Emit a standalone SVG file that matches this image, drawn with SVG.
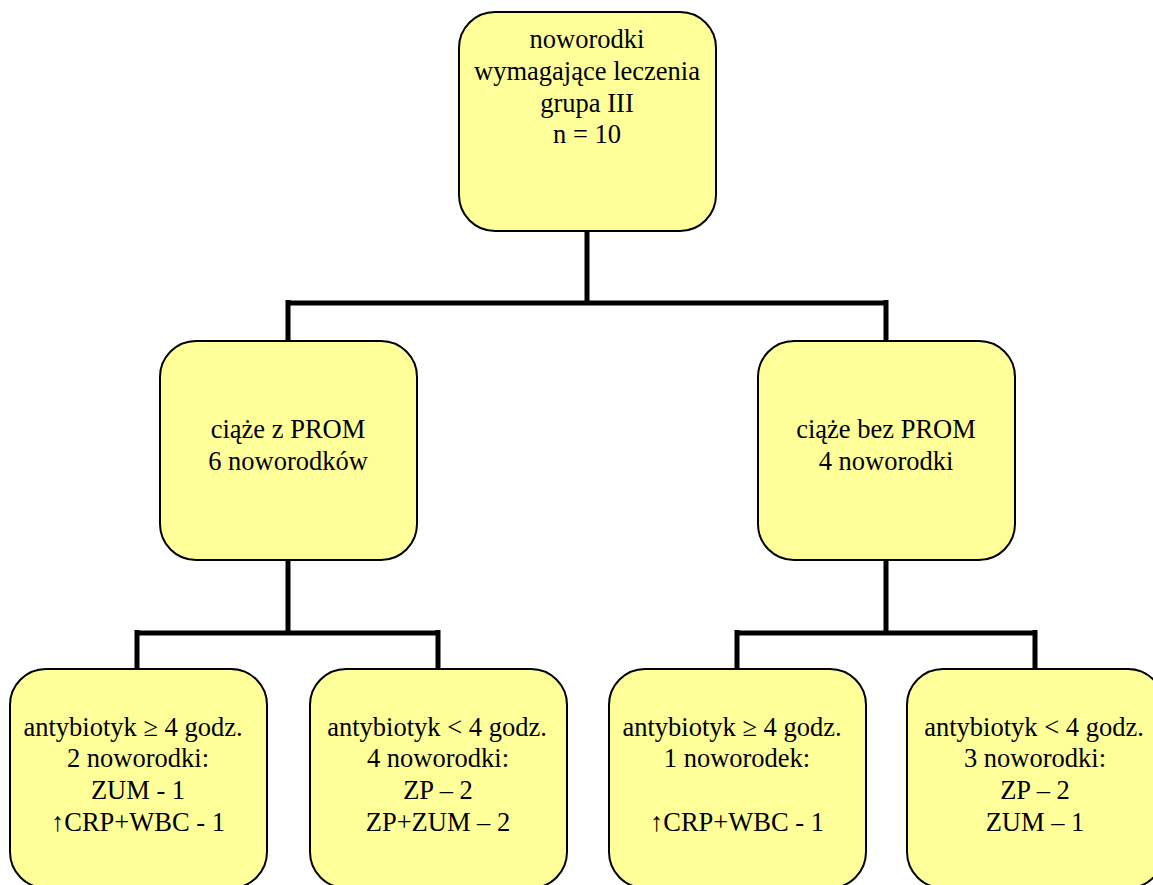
<svg xmlns="http://www.w3.org/2000/svg" width="1153" height="885" viewBox="0 0 1153 885">
<style>
.box{fill:#FFFF99;stroke:#000;stroke-width:2}
.t{font-family:"Liberation Serif","Times New Roman",Times,serif;font-size:26.5px;fill:#000;text-anchor:middle}
.c{fill:none;stroke:#000;stroke-width:5;stroke-linecap:butt}
</style>
<rect width="1153" height="885" fill="#fff"/>
<g id="connectors">
<path class="c" d="M587 231V303M288 303H886M288 300V341M886 300V341"/>
<path class="c" d="M288 560V633M137 633H438M137 630V669M438 630V669"/>
<path class="c" d="M886 560V633M737 633H1035M737 630V669M1035 630V669"/>
</g>
<g id="n-top">
<rect class="box" x="459" y="12" width="257" height="219" rx="36"/>
<text class="t" x="587" y="48">noworodki</text>
<text class="t" x="587" y="80">wymagające leczenia</text>
<text class="t" x="587" y="112">grupa III</text>
<text class="t" x="587" y="143">n = 10</text>
</g>
<g id="n-prom">
<rect class="box" x="160" y="341" width="257" height="219" rx="36"/>
<text class="t" x="288" y="438">ciąże z PROM</text>
<text class="t" x="288" y="470">6 noworodków</text>
</g>
<g id="n-noprom">
<rect class="box" x="758" y="341" width="257" height="219" rx="36"/>
<text class="t" x="886" y="438">ciąże bez PROM</text>
<text class="t" x="886" y="470">4 noworodki</text>
</g>
<g id="n-b1">
<rect class="box" x="10" y="669" width="257" height="219" rx="36"/>
<text class="t" x="133" y="736">antybiotyk ≥ 4 godz.</text>
<text class="t" x="138" y="767">2 noworodki:</text>
<text class="t" x="138" y="799">ZUM - 1</text>
<text class="t" x="138" y="831">↑CRP+WBC - 1</text>
</g>
<g id="n-b2">
<rect class="box" x="310" y="669" width="257" height="219" rx="36"/>
<text class="t" x="437" y="736">antybiotyk &lt; 4 godz.</text>
<text class="t" x="438" y="767">4 noworodki:</text>
<text class="t" x="438" y="799">ZP – 2</text>
<text class="t" x="438" y="831">ZP+ZUM – 2</text>
</g>
<g id="n-b3">
<rect class="box" x="609" y="669" width="257" height="219" rx="36"/>
<text class="t" x="732" y="736">antybiotyk ≥ 4 godz.</text>
<text class="t" x="737" y="767">1 noworodek:</text>
<text class="t" x="737" y="831">↑CRP+WBC - 1</text>
</g>
<g id="n-b4">
<rect class="box" x="907" y="669" width="257" height="219" rx="36"/>
<text class="t" x="1034" y="736">antybiotyk &lt; 4 godz.</text>
<text class="t" x="1035" y="767">3 noworodki:</text>
<text class="t" x="1035" y="799">ZP – 2</text>
<text class="t" x="1035" y="831">ZUM – 1</text>
</g>
</svg>
